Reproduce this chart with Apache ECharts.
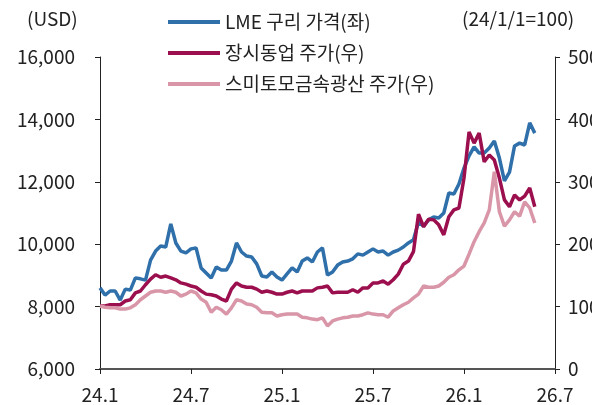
<!DOCTYPE html>
<html>
<head>
<meta charset="utf-8">
<script src="https://cdn.jsdelivr.net/npm/echarts@6/dist/echarts.min.js"></script>
<style>
  html, body { margin: 0; padding: 0; background: #fff; }
  #chart { width: 592px; height: 405px; }
</style>
</head>
<body>
<div id="chart"></div>
<script>
// x축 눈금 (6개월 간격)
var tickLabels = ['24.1', '24.7', '25.1', '25.7', '26.1', '26.7'];
// 관측 간격: 1/3개월 (약 10일)
var step = 1 / 3;

// LME 구리 가격 (USD, 좌축)
var lme = [8600, 8370, 8500, 8500, 8210, 8560, 8530, 8920, 8890, 8850,
           9490, 9780, 9940, 9910, 10650, 10040, 9780, 9720, 9850, 9880,
           9240, 9080, 8920, 9270, 9170, 9170, 9460, 10040, 9750, 9620,
           9590, 9370, 8980, 8950, 9110, 8950, 8850, 9050, 9240, 9110,
           9460, 9560, 9430, 9750, 9880, 9010, 9110, 9330, 9430, 9460,
           9530, 9690, 9650, 9750, 9850, 9750, 9780, 9650, 9750, 9810,
           9910, 10040, 10140, 10710, 10580, 10780, 10870, 10840, 11000, 11640,
           11610, 11930, 12440, 12830, 13120, 12920, 12920, 13080, 13310, 12760,
           12030, 12310, 13150, 13240, 13180, 13890, 13560];

// 장시동업 주가 (24/1/1=100, 우축)
var jiangxi = [101, 101, 103, 103, 103, 109, 111, 122, 125, 135,
               144, 151, 147, 149, 146, 143, 138, 136, 133, 131,
               125, 120, 119, 117, 112, 109, 128, 138, 133, 131,
               131, 128, 123, 125, 123, 120, 120, 123, 125, 122,
               125, 125, 125, 130, 131, 133, 122, 123, 123, 123,
               127, 123, 130, 130, 138, 138, 141, 136, 143, 152,
               168, 173, 188, 248, 228, 240, 239, 231, 215, 244,
               255, 258, 306, 380, 362, 378, 332, 343, 335, 306,
               271, 260, 279, 271, 277, 290, 260];

// 스미토모금속광산 주가 (24/1/1=100, 우축)
var sumitomo = [101, 99, 98, 98, 96, 96, 98, 103, 111, 117,
                123, 125, 125, 123, 125, 123, 117, 120, 125, 122,
                112, 107, 91, 99, 95, 88, 98, 111, 109, 104,
                103, 99, 91, 90, 90, 85, 87, 88, 88, 88,
                83, 82, 80, 79, 82, 69, 77, 80, 82, 83,
                85, 85, 87, 90, 88, 87, 87, 83, 93, 98,
                103, 107, 114, 120, 133, 131, 131, 133, 139, 147,
                151, 159, 165, 184, 204, 220, 234, 255, 316, 252,
                229, 239, 252, 245, 268, 258, 234];

function toPoints(arr) {
    return arr.map(function (v, i) { return [i * step, v]; });
}

var font = 'Noto Sans CJK KR';
var fs = 19;
var chart = echarts.init(document.getElementById('chart'));

var option = {
    animation: false,
    textStyle: { fontFamily: font },
    grid: { left: 100, right: 37, top: 57, bottom: 36, containLabel: false, outerBoundsMode: 'none' },
    legend: {
        orient: 'vertical',
        left: 163,
        top: 6,
        itemWidth: 52,
        itemHeight: 4,
        itemGap: 9,
        icon: 'rect',
        textStyle: { fontFamily: font, fontSize: fs, color: '#222', lineHeight: 22, padding: [0, 0, 0, 0] },
        data: ['LME 구리 가격(좌)', '장시동업 주가(우)', '스미토모금속광산 주가(우)']
    },
    graphic: [
        { type: 'text', left: 27, top: 9, style: { text: '(USD)', font: fs + 'px "Noto Sans CJK KR"', fill: '#222' } },
        { type: 'text', left: 462, top: 9, style: { text: '(24/1/1=100)', font: fs + 'px "Noto Sans CJK KR"', fill: '#222' } }
    ],
    xAxis: {
        type: 'value',
        min: 0,
        max: 30,
        interval: 6,
        axisLine: { lineStyle: { color: '#555', width: 2 } },
        axisTick: { show: true, length: 5, lineStyle: { color: '#222' } },
        axisLabel: {
            margin: 16,
            fontSize: fs,
            color: '#222',
            formatter: function (v) { return tickLabels[Math.round(v / 6)]; }
        },
        splitLine: { show: false }
    },
    yAxis: [{
        type: 'value',
        min: 6000,
        max: 16000,
        interval: 2000,
        axisLine: { show: true, lineStyle: { color: '#222', width: 1 } },
        axisTick: { show: true, length: 5, lineStyle: { color: '#222' } },
        axisLabel: {
            margin: 25,
            fontSize: fs,
            color: '#222',
            formatter: function (v) { return v.toLocaleString('en-US'); }
        },
        splitLine: { show: false }
    }, {
        type: 'value',
        min: 0,
        max: 500,
        interval: 100,
        axisLine: { show: true, lineStyle: { color: '#222', width: 1 } },
        axisTick: { show: true, length: 5, lineStyle: { color: '#222' } },
        axisLabel: { margin: 13, fontSize: fs, color: '#222' },
        splitLine: { show: false }
    }],
    series: [{
        name: 'LME 구리 가격(좌)',
        type: 'line',
        yAxisIndex: 0,
        showSymbol: false,
        data: toPoints(lme),
        itemStyle: { color: '#2F6FAA' },
        lineStyle: { color: '#2F6FAA', width: 3.5 }
    }, {
        name: '장시동업 주가(우)',
        type: 'line',
        yAxisIndex: 1,
        showSymbol: false,
        data: toPoints(jiangxi),
        itemStyle: { color: '#9C0F4E' },
        lineStyle: { color: '#9C0F4E', width: 3.5 }
    }, {
        name: '스미토모금속광산 주가(우)',
        type: 'line',
        yAxisIndex: 1,
        showSymbol: false,
        data: toPoints(sumitomo),
        itemStyle: { color: '#D896A8' },
        lineStyle: { color: '#D896A8', width: 3.5 }
    }]
};

chart.setOption(option);
</script>
</body>
</html>
